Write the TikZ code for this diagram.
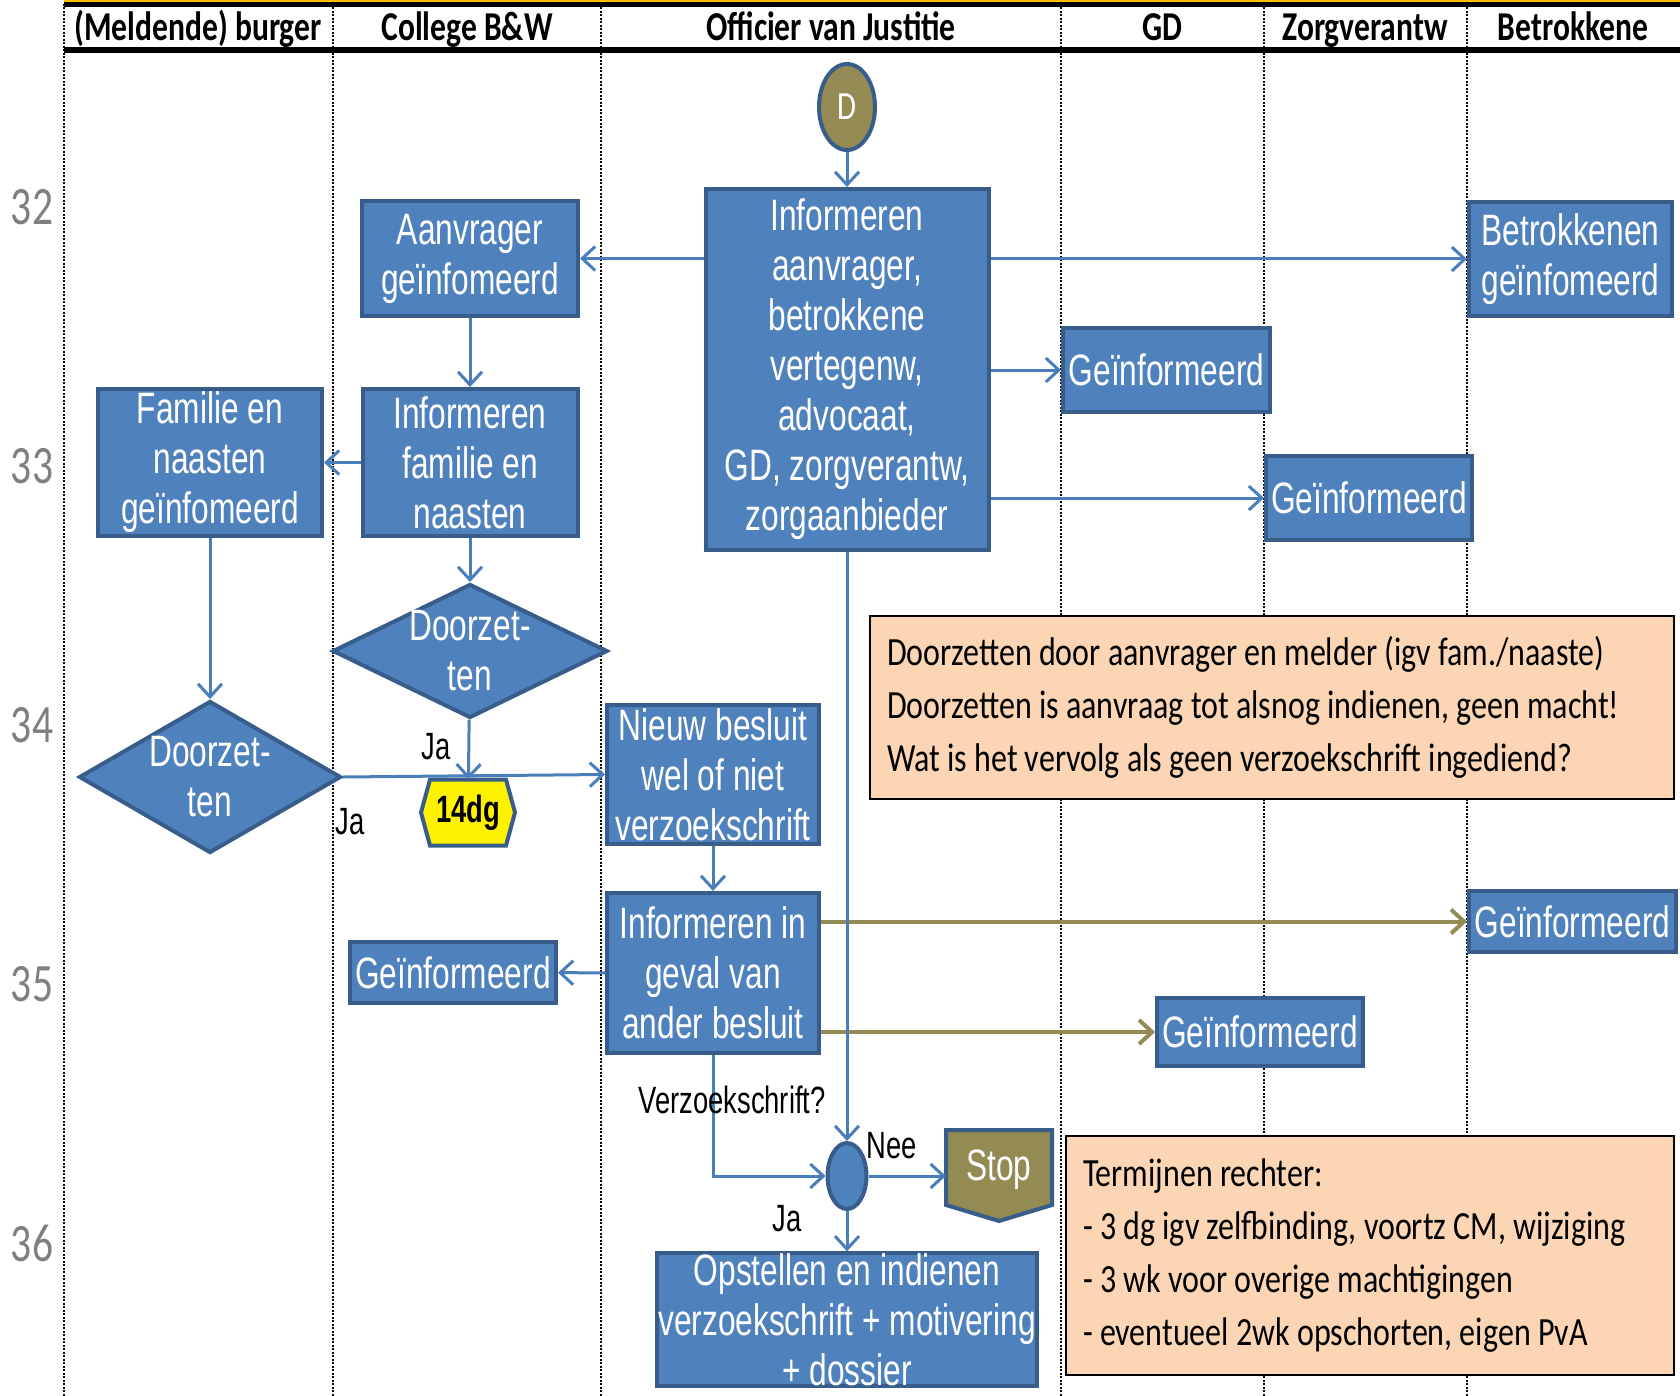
\documentclass[tikz,border=0pt]{standalone}
\usepackage{fontspec}
\usetikzlibrary{positioning, arrows.meta, calc, shapes.geometric}

\newfontfamily\boxfont[FakeStretch=0.72]{Liberation Sans}
\newfontfamily\calfont[FakeStretch=0.77]{Carlito}
\newfontfamily\notefont[FakeStretch=0.8]{Carlito}

\definecolor{boxfill}{HTML}{4F81BD}
\definecolor{boxline}{HTML}{385D8A}
\definecolor{flowblue}{HTML}{4A7EBB}
\definecolor{olivegreen}{HTML}{948A54}
\definecolor{peach}{HTML}{FCD5B5}
\definecolor{numgray}{HTML}{7F7F7F}
\definecolor{headgold}{HTML}{FFC000}

\begin{document}
\begin{tikzpicture}[
  x=1pt, y=-1pt,
  proc/.style={rectangle, draw=boxline, fill=boxfill, line width=4pt, text=white,
    align=center, inner sep=0pt, font=\boxfont\fontsize{44}{50}\selectfont},
  decision/.style={proc, diamond, aspect=2, inner sep=-10pt},
  startnode/.style={ellipse, draw=boxline, fill=olivegreen, line width=4pt, text=white,
    inner sep=0pt, minimum width=56pt, minimum height=86pt, font=\calfont\fontsize{40}{40}\selectfont},
  merge/.style={ellipse, draw=boxline, fill=boxfill, line width=4pt,
    inner sep=0pt, minimum width=39pt, minimum height=66pt},
  note/.style={rectangle, draw=black, fill=peach, line width=1.5pt, align=flush left,
    inner ysep=0pt, inner xsep=17pt, font=\notefont\fontsize{40}{53}\selectfont},
  hexshape/.style={draw=boxline, fill=yellow, line width=4pt},
  stopshape/.style={draw=boxline, fill=olivegreen, line width=4pt},
  flow/.style={draw=flowblue, line width=3pt, -{Straight Barb[length=13pt, width=24pt]}},
  oliveflow/.style={flow, draw=olivegreen, line width=4pt},
  lbl/.style={inner sep=0pt, font=\boxfont\fontsize{38}{40}\selectfont},
  lane/.style={line width=2pt, dash pattern=on 2pt off 1.5pt},
  head/.style={inner sep=0pt, font=\calfont\bfseries\fontsize{41}{44}\selectfont},
  rownum/.style={inner sep=0pt, text=numgray, font=\calfont\fontsize{54}{60}\selectfont}
]
\useasboundingbox (0,0) rectangle (1680,1396);
\fill[white] (0,0) rectangle (1680,1396);

% swimlanes
\foreach \x in {64,333,601,1061,1264,1467}
  \draw[lane] (\x,4) -- (\x,1396);
\draw[headgold, line width=2pt] (64,1) -- (1680,1);
\draw[line width=5pt] (64,5) -- (1680,5);
\draw[line width=6pt] (64,50) -- (1680,50);

\node[head, anchor=base] (hBurger) at (198,41) {(Meldende) burger};
\node[head, anchor=base] (hCollege) at (467,41) {College B\&W};
\node[head, anchor=base] (hOvJ) at (831,41) {Officier van Justitie};
\node[head, anchor=base] (hGD) at (1162,41) {GD};
\node[head, anchor=base] (hZorg) at (1365,41) {Zorgverantw};
\node[head, anchor=base] (hBetr) at (1573,41) {Betrokkene};

% step numbers
\foreach \r [count=\i from 0] in {32,...,36}
  \node[rownum] (row\r) at (32,207+259*\i) {\r};

% Officier van Justitie informs everybody
\node[startnode] (start) at (847,107) {D};
\node[proc, minimum width=283pt, minimum height=361pt] (infAll) at (847,369.5)
  {Informeren\\aanvrager,\\betrokkene\\vertegenw,\\advocaat,\\GD, zorgverantw,\\zorgaanbieder};
\node[proc, minimum width=216pt, minimum height=115pt] (aanvInf) at (470,258.5) {Aanvrager\\geïnfomeerd};
\node[proc, minimum width=203pt, minimum height=114pt] (betrInf) at (1570.5,259) {Betrokkenen\\geïnfomeerd};
\node[proc, minimum width=207pt, minimum height=84pt] (gdInf) at (1166.5,370) {Geïnformeerd};
\node[proc, minimum width=206pt, minimum height=84pt] (zorgInf) at (1369,498) {Geïnformeerd};

% College and family
\node[proc, minimum width=215pt, minimum height=147pt] (famInform) at (470,462.5) {Informeren\\familie en\\naasten};
\node[proc, minimum width=224pt, minimum height=147pt] (famInf) at (210,462.5) {Familie en\\naasten\\geïnfomeerd};
\node[decision, minimum width=275pt, minimum height=134pt] (doorB) at (470,651) {Doorzet-\\ten};
\node[decision, minimum width=262pt, minimum height=152pt] (doorA) at (210,777) {Doorzet-\\ten};

\draw[hexshape] (421,812.5) -- (430,779.5) -- (506,779.5) -- (515,812.5) -- (506,845.5) -- (430,845.5) -- cycle;
\node[inner sep=0pt, minimum width=94pt, minimum height=66pt,
  font=\boxfont\bfseries\fontsize{38}{40}\selectfont] (wait) at (468,812.5) {14dg};

% new decision
\node[proc, minimum width=212pt, minimum height=139pt] (nieuwB) at (713,774.5) {Nieuw besluit\\wel of niet\\verzoekschrift};
\node[proc, minimum width=212pt, minimum height=160pt] (infAnder) at (713,973) {Informeren in\\geval van\\ander besluit};
\node[proc, minimum width=206pt, minimum height=61pt] (collInf) at (453,972.5) {Geïnformeerd};
\node[proc, minimum width=207pt, minimum height=61pt] (betrInf2) at (1572.5,921.5) {Geïnformeerd};
\node[proc, minimum width=206pt, minimum height=68pt] (zorgInf2) at (1260,1032) {Geïnformeerd};

% request or stop
\node[merge] (join) at (847,1176) {};
\draw[stopshape] (946,1130) -- (1052,1130) -- (1052,1205) -- (999,1221) -- (946,1205) -- cycle;
\node[inner sep=0pt, minimum width=106pt, text=white,
  font=\boxfont\fontsize{44}{50}\selectfont] (stop) at (999,1170) {Stop};
\node[proc, minimum width=380pt, minimum height=131pt] (opstellen) at (847,1319.5)
  {Opstellen en indienen\\verzoekschrift + motivering\\+ dossier};

% notes
\node[note, minimum height=183pt, text width=770pt] (noteDoor) at (1272,707.5)
  {Doorzetten door aanvrager en melder (igv fam./naaste)\\Doorzetten is aanvraag tot alsnog indienen, geen macht!\\Wat is het vervolg als geen verzoekschrift ingediend?};
\node[note, minimum height=239pt, text width=574pt] (noteTerm) at (1370,1255.5)
  {Termijnen rechter:\\- 3 dg igv zelfbinding, voortz CM, wijziging\\- 3 wk voor overige machtigingen\\- eventueel 2wk opschorten, eigen PvA};

% connectors
\draw[flow] (start) -- (infAll);
\draw[flow] (infAll.west |- aanvInf) -- (aanvInf);
\draw[flow] (infAll.east |- betrInf) -- (betrInf);
\draw[flow] (infAll.east |- gdInf) -- (gdInf);
\draw[flow] (infAll.east |- zorgInf) -- (zorgInf);
\draw[flow] (aanvInf) -- (famInform);
\draw[flow] (famInform) -- (famInf);
\draw[flow] (famInform) -- (doorB);
\draw[flow] (famInf) -- (doorA);
\draw[flow] (doorB) -- (wait);
\draw[flow] (doorA.east) -- (nieuwB.west);
\draw[flow] (nieuwB) -- (infAnder);
\draw[flow] (infAnder) -- (collInf);
\draw[oliveflow] (infAnder.east |- betrInf2) -- (betrInf2);
\draw[oliveflow] (infAnder.east |- zorgInf2) -- (zorgInf2);
\draw[flow] (infAll) -- (join);
\draw[flow] (infAnder) |- (join);
\draw[flow] (join) -- (join -| stop.west);
\draw[flow] (join) -- (opstellen);

% labels
\node[lbl] (jaB) at (436,747) {Ja};
\node[lbl] (jaA) at (350,822) {Ja};
\node[lbl] (vraag) at (732,1100) {Verzoekschrift?};
\node[lbl] (nee) at (892,1146) {Nee};
\node[lbl] (jaC) at (787,1219) {Ja};

\end{tikzpicture}
\end{document}
